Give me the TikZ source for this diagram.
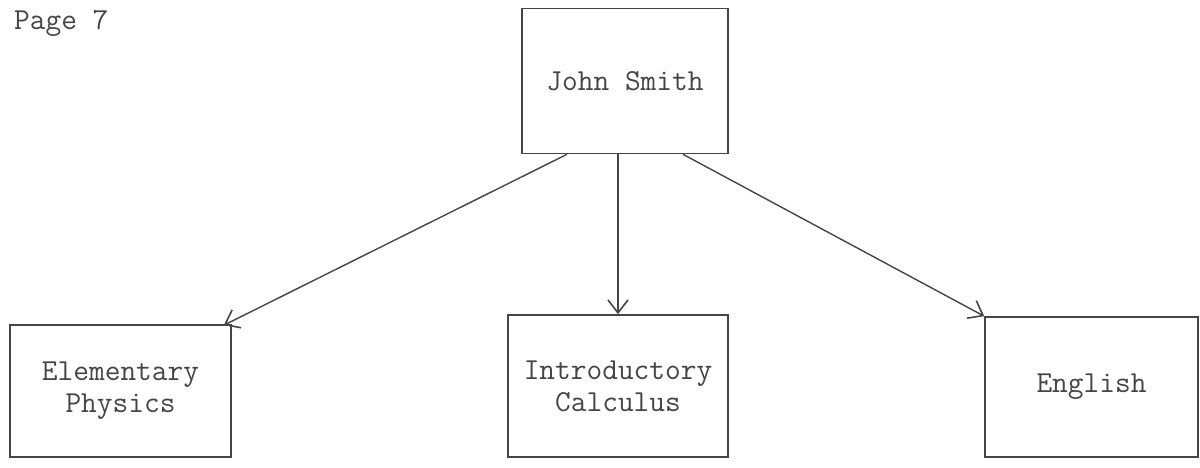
\documentclass[tikz,border=0pt]{standalone}
\usetikzlibrary{arrows.meta}
\definecolor{ink}{HTML}{454545}
\begin{document}
\begin{tikzpicture}[x=1pt,y=-1pt,
  box/.style={draw=ink,line width=1.6pt,rectangle,align=center,text=ink,
    font=\ttfamily\fontsize{30.5}{32}\selectfont,inner sep=0pt},
  arr/.style={draw=ink,line width=1.4pt,-{Straight Barb[length=13pt,width=20pt,line width=1.6pt]}},
  lbl/.style={text=ink,font=\ttfamily\fontsize{30.5}{32}\selectfont,inner sep=0pt}]
\useasboundingbox (0,0) rectangle (1200,467);
\fill[white] (0,0) rectangle (1200,467);
\node[lbl,anchor=base west] (page) at (14,29) {Page 7};
\node[box,minimum width=206pt,minimum height=145pt] (js) at (625,81) {John Smith};
\node[box,minimum width=221pt,minimum height=132pt] (phys) at (120.5,391) {Elementary\\Physics};
\node[box,minimum width=220pt,minimum height=142pt] (calc) at (618,386) {Introductory\\Calculus};
\node[box,minimum width=213pt,minimum height=140pt] (eng) at (1091.5,387) {English};
\draw[arr] ([xshift=-58pt]js.south) -- ([xshift=-8pt,yshift=-1pt]phys.north east);
\draw[arr] (calc.north |- js.south) -- (calc.north);
\draw[arr] ([xshift=58pt]js.south) -- (eng.north west);
\end{tikzpicture}
\end{document}
